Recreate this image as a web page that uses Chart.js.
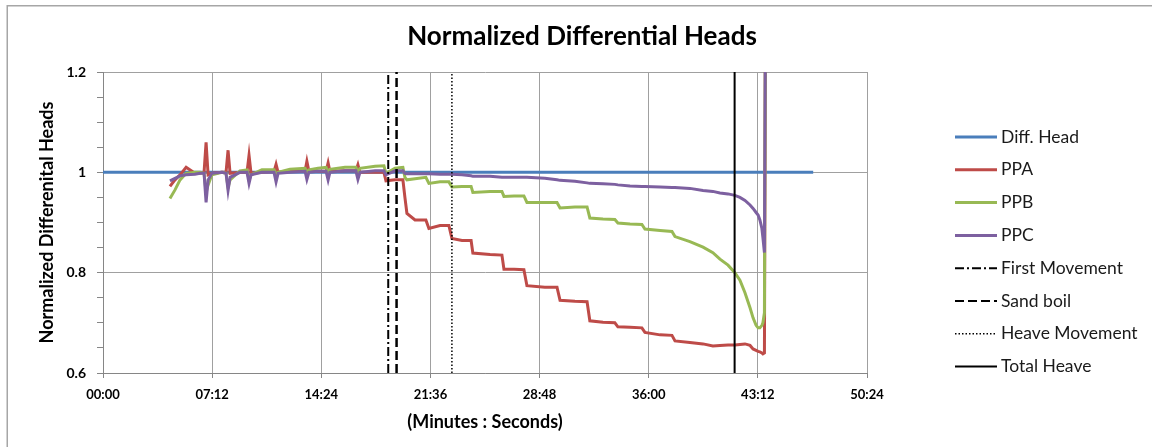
<!DOCTYPE html>
<html>
<head>
<meta charset="utf-8">
<script src="https://cdn.jsdelivr.net/npm/chart.js@4/dist/chart.umd.min.js"></script>
<style>
  html, body { margin: 0; padding: 0; background: #fff; }
  #wrap { width: 1152px; height: 447px; }
</style>
</head>
<body>
<div id="wrap"><canvas id="headsChart"></canvas></div>
<script>
// elapsed time in seconds, shared by the three piezometer series
const seriesTimes = [
  265, 285, 305, 329, 364, 384, 400, 408, 416, 431,
  471, 487, 495, 503, 542, 570, 578, 586, 629, 677,
  685, 693, 740, 800, 807, 815, 851, 883, 891, 898,
  958, 1001, 1009, 1017, 1077, 1112, 1120, 1156, 1187, 1195,
  1203, 1235, 1278, 1290, 1334, 1369, 1381, 1421, 1457, 1464,
  1532, 1579, 1587, 1627, 1666, 1678, 1749, 1797, 1809, 1868,
  1916, 1927, 1979, 2026, 2038, 2086, 2133, 2145, 2205, 2252,
  2264, 2323, 2375, 2414, 2442, 2474, 2501, 2521, 2541, 2561,
  2573, 2585, 2593, 2600, 2608, 2612, 2618, 2622
];
const ppaValues = [
  0.972, 0.985, 0.995, 1.010, 0.998, 0.998, 1.000, 1.060, 0.995, 0.998,
  1.000, 1.000, 1.044, 0.998, 1.000, 1.000, 1.034, 0.998, 1.000, 1.002,
  1.016, 1.000, 1.002, 1.003, 1.022, 1.002, 1.002, 1.002, 1.019, 1.002,
  1.003, 1.003, 1.015, 1.000, 1.000, 1.000, 0.983, 0.985, 0.985, 0.950,
  0.918, 0.905, 0.905, 0.888, 0.894, 0.894, 0.868, 0.864, 0.864, 0.839,
  0.836, 0.835, 0.807, 0.807, 0.806, 0.774, 0.771, 0.771, 0.745, 0.743,
  0.742, 0.704, 0.701, 0.700, 0.692, 0.691, 0.690, 0.681, 0.676, 0.675,
  0.664, 0.661, 0.658, 0.654, 0.655, 0.656, 0.656, 0.657, 0.658, 0.655,
  0.648, 0.645, 0.643, 0.642, 0.640, 0.638, 0.640, 1.300
];
const ppbValues = [
  0.948, 0.965, 0.985, 0.998, 1.000, 1.000, 0.998, 0.960, 0.975, 0.995,
  1.000, 0.998, 0.970, 0.985, 1.003, 1.005, 0.985, 0.995, 1.005, 1.005,
  0.995, 1.000, 1.006, 1.008, 1.000, 1.005, 1.008, 1.010, 1.000, 1.006,
  1.010, 1.010, 1.000, 1.008, 1.012, 1.013, 0.998, 1.008, 1.010, 0.990,
  0.985, 0.987, 0.990, 0.978, 0.981, 0.981, 0.971, 0.972, 0.972, 0.960,
  0.962, 0.962, 0.952, 0.953, 0.953, 0.940, 0.940, 0.940, 0.929, 0.931,
  0.931, 0.909, 0.907, 0.906, 0.899, 0.897, 0.896, 0.887, 0.884, 0.882,
  0.872, 0.862, 0.851, 0.840, 0.827, 0.815, 0.800, 0.785, 0.760, 0.730,
  0.710, 0.695, 0.690, 0.690, 0.695, 0.700, 0.720, 1.300
];
const ppcValues = [
  0.983, 0.988, 0.993, 0.995, 0.996, 0.998, 0.998, 0.940, 0.985, 0.998,
  1.000, 0.998, 0.964, 0.990, 1.000, 1.000, 0.978, 0.995, 1.000, 1.000,
  0.981, 0.998, 1.000, 1.002, 0.986, 1.000, 1.002, 1.002, 0.985, 1.000,
  1.003, 1.003, 0.986, 1.000, 1.003, 1.003, 0.995, 1.003, 1.003, 0.998,
  0.997, 0.997, 0.997, 0.997, 0.996, 0.996, 0.996, 0.995, 0.993, 0.992,
  0.992, 0.990, 0.990, 0.990, 0.990, 0.990, 0.988, 0.985, 0.984, 0.982,
  0.979, 0.978, 0.977, 0.976, 0.975, 0.973, 0.972, 0.972, 0.971, 0.970,
  0.970, 0.968, 0.964, 0.962, 0.959, 0.957, 0.954, 0.950, 0.944, 0.935,
  0.928, 0.920, 0.915, 0.905, 0.888, 0.870, 0.840, 1.300
];

// applied differential head, normalised
const diffHeadTimes = [0, 2811];
const diffHeadValues = [1, 1];

// observed events (seconds)
const eventNames = ['First Movement', 'Sand boil', 'Heave Movement', 'Total Heave'];
const eventTimes = [1129, 1162, 1381, 2500];
const eventDashes = [[9, 3, 2, 3], [9, 4], [1.5, 2], []];
const eventWidths = [2, 2.5, 1.5, 2];

const yMin = 0.6, yMax = 1.2, yMajor = 0.2, yMinor = 0.05;
const xMax = 3024, xStep = 432;

const FONT = 'Lato, "Open Sans", sans-serif';
const TITLE = 'Normalized Differential Heads';

function toXY(xs, ys) {
  return xs.map((x, i) => ({ x: x, y: ys[i] }));
}

function mmss(sec) {
  const m = Math.floor(sec / 60), s = Math.round(sec % 60);
  return String(m).padStart(2, '0') + ':' + String(s).padStart(2, '0');
}

function isMajor(v) {
  const k = v / yMajor;
  return Math.abs(k - Math.round(k)) < 1e-6;
}

const datasets = [
  { label: 'Diff. Head', data: toXY(diffHeadTimes, diffHeadValues), borderColor: '#4a7ebb', borderWidth: 3, order: 4 },
  { label: 'PPA', data: toXY(seriesTimes, ppaValues), borderColor: '#be4b48', borderWidth: 3, order: 3 },
  { label: 'PPB', data: toXY(seriesTimes, ppbValues), borderColor: '#98b954', borderWidth: 3, order: 2 },
  { label: 'PPC', data: toXY(seriesTimes, ppcValues), borderColor: '#7d60a0', borderWidth: 3, order: 1 }
];
eventNames.forEach((name, i) => {
  datasets.push({
    label: name,
    data: [{ x: eventTimes[i], y: yMin }, { x: eventTimes[i], y: yMax }],
    borderColor: '#000',
    borderWidth: eventWidths[i],
    borderDash: eventDashes[i],
    order: 0
  });
});

// white page, thin frame and the title centred on the whole page
const frame = {
  id: 'frame',
  beforeDraw(chart) {
    const ctx = chart.ctx;
    ctx.save();
    ctx.fillStyle = '#fff';
    ctx.fillRect(0, 0, chart.width, chart.height);
    ctx.strokeStyle = '#a6a6a6';
    ctx.lineWidth = 1.5;
    ctx.strokeRect(7.25, 5.75, chart.width + 20, chart.height + 20);
    ctx.fillStyle = '#000';
    ctx.font = 'bold 26px ' + FONT;
    ctx.textAlign = 'center';
    ctx.textBaseline = 'middle';
    ctx.fillText(TITLE, 582, 37);
    ctx.restore();
  }
};

// legend column on the right, one row per dataset
const sideLegend = {
  id: 'sideLegend',
  afterDraw(chart) {
    const ctx = chart.ctx;
    ctx.save();
    ctx.font = '17.5px ' + FONT;
    ctx.textBaseline = 'middle';
    ctx.fillStyle = '#1a1a1a';
    chart.data.datasets.forEach((ds, i) => {
      const y = 137 + i * 32.8;
      ctx.beginPath();
      ctx.setLineDash(ds.borderDash || []);
      ctx.lineWidth = Math.min(ds.borderWidth, i < 4 ? 3 : 2);
      ctx.strokeStyle = ds.borderColor;
      ctx.moveTo(955, y);
      ctx.lineTo(997, y);
      ctx.stroke();
      ctx.setLineDash([]);
      ctx.fillText(ds.label, 1001, y);
    });
    ctx.restore();
  }
};

new Chart(document.getElementById('headsChart'), {
  type: 'line',
  data: { datasets: datasets },
  plugins: [frame, sideLegend],
  options: {
    responsive: true,
    maintainAspectRatio: false,
    animation: false,
    layout: { padding: { left: 0, right: 285, top: 72, bottom: 0 } },
    elements: {
      point: { radius: 0, hoverRadius: 0 },
      line: { tension: 0, fill: false }
    },
    plugins: {
      legend: { display: false },
      tooltip: { enabled: false },
      title: { display: false }
    },
    scales: {
      x: {
        type: 'linear',
        min: 0,
        max: xMax,
        afterFit(scale) { scale.height = 74; },
        ticks: {
          stepSize: xStep,
          color: '#000',
          padding: 9,
          font: { family: FONT, size: 13, weight: 'bold' },
          maxRotation: 0,
          autoSkip: false,
          callback: (v) => mmss(v)
        },
        grid: { color: '#a0a0a0', tickColor: '#868686', tickLength: 5, lineWidth: 1 },
        border: { color: '#868686', width: 1 },
        title: {
          display: true,
          text: '(Minutes : Seconds)',
          color: '#000',
          font: { family: FONT, size: 18, weight: 'bold' },
          padding: { top: 0, bottom: 14 }
        }
      },
      y: {
        min: yMin,
        max: yMax,
        afterFit(scale) { scale.width = 103; },
        afterBuildTicks(scale) {
          const ticks = [];
          for (let k = 0; k <= Math.round((yMax - yMin) / yMinor); k++) {
            ticks.push({ value: +(yMin + k * yMinor).toFixed(2) });
          }
          scale.ticks = ticks;
        },
        ticks: {
          color: '#000',
          padding: 11,
          autoSkip: false,
          font: { family: FONT, size: 14, weight: 'bold' },
          callback: (v) => isMajor(v) ? String(+v.toFixed(1)) : ''
        },
        grid: {
          color: (c) => isMajor(c.tick.value) ? '#a0a0a0' : 'rgba(0,0,0,0)',
          tickColor: '#868686',
          tickLength: 6,
          lineWidth: 1
        },
        border: { color: '#868686', width: 1 },
        title: {
          display: true,
          text: 'Normalized Differenital Heads',
          color: '#000',
          font: { family: FONT, size: 18, weight: 'bold' },
          padding: { top: 36, bottom: 0 }
        }
      }
    }
  }
});
</script>
</body>
</html>
